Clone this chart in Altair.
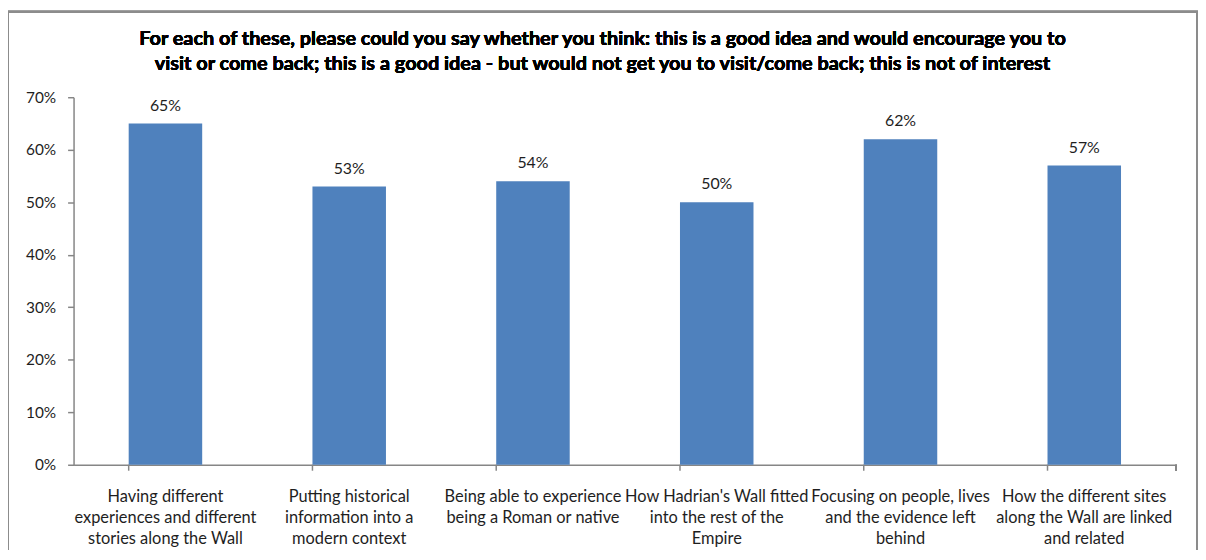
import altair as alt
import pandas as pd

categories = [
    "Having different|experiences and different|stories along the Wall",
    "Putting historical|information into a|modern context",
    "Being able to experience|being a Roman  or native",
    "How Hadrian's Wall fitted|into the rest of the|Empire",
    "Focusing on people, lives|and the  evidence left|behind",
    "How the different sites|along the Wall are linked|and related",
]
values = [0.65, 0.53, 0.54, 0.50, 0.62, 0.57]
y_ticks = [0, 0.1, 0.2, 0.3, 0.4, 0.5, 0.6, 0.7]
title_lines = [
    "For each of these, please could you say whether you think: this is a good idea and would encourage you to",
    "visit or come back; this is a good idea - but would not get you to visit/come  back; this is not of interest",
]

df = pd.DataFrame({"cat": categories, "val": values})

W, H = 1110, 370
FONT = "Lato"
AXIS_COL = "#868686"
TXT = "#1e1e1e"

xscale = alt.Scale(paddingInner=0.6, paddingOuter=0.3)

base = alt.Chart(df)

bars = base.mark_bar(color="#4F81BD").encode(
    x=alt.X(
        "cat:N",
        sort=None,
        scale=xscale,
        title=None,
        axis=alt.Axis(
            labelExpr="split(datum.value, '|')",
            labelAngle=0,
            labelFont=FONT,
            labelFontSize=16.5,
            labelColor=TXT,
            labelLineHeight=21,
            labelPadding=24,
            labelBaseline="top",
            ticks=False,
            domainColor=AXIS_COL,
            domainWidth=1.5,
            labelLimit=0,
        ),
    ),
    y=alt.Y(
        "val:Q",
        scale=alt.Scale(domain=[0, 0.7], nice=False),
        title=None,
        axis=alt.Axis(
            values=y_ticks,
            format=".0%",
            grid=False,
            labelFont=FONT,
            labelFontSize=15.5,
            labelColor=TXT,
            labelPadding=12,
            tickSize=6,
            tickColor=AXIS_COL,
            tickWidth=1.5,
            domainColor=AXIS_COL,
            domainWidth=1.5,
        ),
    ),
)

text = base.mark_text(
    baseline="bottom", dy=-10, font=FONT, fontSize=16, color=TXT
).encode(
    x=alt.X("cat:N", sort=None),
    y=alt.Y("val:Q"),
    text=alt.Text("val:Q", format=".0%"),
)

ticks = base.mark_rule(color=AXIS_COL, strokeWidth=1.5).encode(
    x=alt.X("cat:N", sort=None, bandPosition=0),
    y=alt.value(H),
    y2=alt.value(H + 6),
)

end_tick = base.mark_rule(color=AXIS_COL, strokeWidth=1.5).encode(
    x=alt.value(W),
    y=alt.value(H),
    y2=alt.value(H + 6),
)

frame = base.mark_rect(filled=False, stroke="#8c8c8c", strokeWidth=2).encode(
    x=alt.value(-66),
    x2=alt.value(1131),
    y=alt.value(-86),
    y2=alt.value(463),
)

title1 = base.mark_text(
    font=FONT, fontSize=20, fontWeight="bold", color="#000", baseline="middle"
).encode(x=alt.value(532.5), y=alt.value(-59), text=alt.value(title_lines[0]))

title2 = base.mark_text(
    font=FONT, fontSize=20, fontWeight="bold", color="#000", baseline="middle"
).encode(x=alt.value(532.5), y=alt.value(-33), text=alt.value(title_lines[1]))

chart = (
    alt.layer(frame, bars, text, ticks, end_tick, title1, title2)
    .properties(
        width=W,
        height=H,
        padding={"left": 66, "top": 88, "right": 22, "bottom": 84},
        autosize=alt.AutoSizeParams(type="none"),
    )
    .configure_view(stroke=None)
)

chart.save("out.html", embed_options={"renderer": "svg", "actions": False})
